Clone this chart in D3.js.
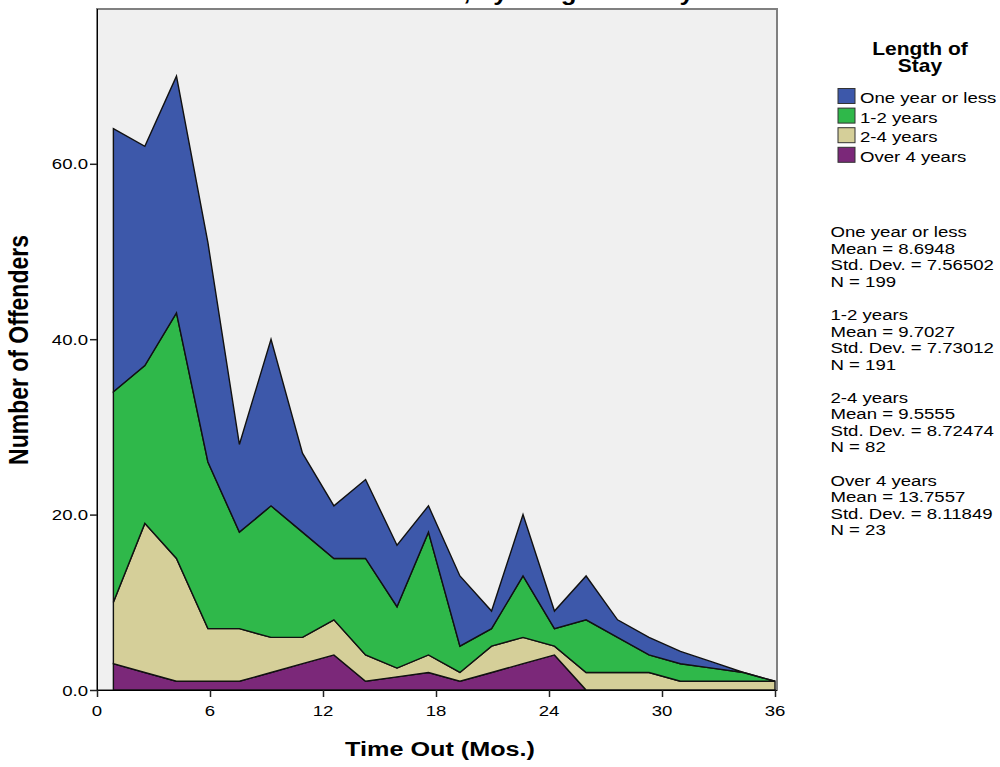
<!DOCTYPE html>
<html>
<head>
<meta charset="utf-8">
<script src="https://cdn.jsdelivr.net/npm/d3@7"></script>
<style>
  html, body { margin: 0; padding: 0; background: #ffffff; }
  svg { display: block; font-family: "Liberation Sans", Arial, sans-serif; }
</style>
</head>
<body>
<svg id="chart" width="1000" height="767"></svg>
<script>
// Months out (x positions of the frequency polygon vertices)
const monthsOut = [0.87, 2.54, 4.22, 5.89, 7.56, 9.24, 10.91, 12.58, 14.26, 15.93, 17.60,
                   19.27, 20.95, 22.62, 24.29, 25.97, 27.64, 29.31, 30.98, 32.66, 34.33, 36.00];

// Number of offenders per group (stacked bottom to top: over 4, 2-4, 1-2, one year or less)
const overFourYears = [3, 2, 1, 1, 1, 2, 3, 4, 1, 1.5, 2, 1, 2, 3, 4, 0, 0, 0, 0, 0, 0, 0];
const twoToFourYears = [7, 17, 14, 6, 6, 4, 3, 4, 3, 1, 2, 1, 3, 3, 1, 2, 2, 2, 1, 1, 1, 1];
const oneToTwoYears = [24, 18, 28, 19, 11, 15, 12, 7, 11, 7, 14, 3, 2, 7, 2, 6, 4, 2, 2, 1.5, 1, 0];
const oneYearOrLess = [30, 25, 27, 25, 10, 19, 9, 6, 9, 7, 3, 8, 2, 7, 2, 5, 2, 2, 1.4, 0.7, 0, 0];

const legendLabels = ["One year or less", "1-2 years", "2-4 years", "Over 4 years"];
const legendColors = ["#3d58aa", "#2fb84a", "#d5cf99", "#7b2879"];

const statMeans = ["8.6948", "9.7027", "9.5555", "13.7557"];
const statStdDevs = ["7.56502", "7.73012", "8.72474", "8.11849"];
const statCounts = ["199", "191", "82", "23"];

const xTickValues = [0, 6, 12, 18, 24, 30, 36];
const yTickValues = [0, 20, 40, 60];

// Text in this chart is drawn slightly wide
const STRETCH = 1.2;

const svg = d3.select("#chart");
const plot = { left: 97, right: 777, top: 9, bottom: 690 };

const x = d3.scaleLinear().domain([0, 36]).range([97, 775]);
const y = d3.scaleLinear().domain([0, 77.65]).range([plot.bottom, plot.top]);

function wideText(parent, px, py, str, opts = {}) {
  const g = parent.append("g")
    .attr("transform", `translate(${px},${py}) scale(${STRETCH},1)` + (opts.rotate ? ` rotate(${opts.rotate})` : ""));
  return g.append("text")
    .attr("x", 0).attr("y", 0)
    .attr("text-anchor", opts.anchor || "start")
    .attr("font-size", opts.size || 15.5)
    .attr("font-weight", opts.bold ? "bold" : "normal")
    .attr("fill", "#000")
    .text(str);
}

// Chart title (sits mostly above the visible area)
wideText(svg, 352, -0.5, "Time Out, by Length of Stay", { size: 21.5, bold: true });

// Plot background and frame
svg.append("rect")
  .attr("x", plot.left).attr("y", plot.top)
  .attr("width", plot.right - plot.left).attr("height", plot.bottom - plot.top)
  .attr("fill", "#f0f0f0")
  .attr("stroke", "#808080").attr("stroke-width", 2);

// Stacked areas
const rows = monthsOut.map((m, i) => ({
  m,
  over4: overFourYears[i],
  twoFour: twoToFourYears[i],
  oneTwo: oneToTwoYears[i],
  oneLess: oneYearOrLess[i]
}));
const keys = ["over4", "twoFour", "oneTwo", "oneLess"];
const keyColor = { over4: legendColors[3], twoFour: legendColors[2], oneTwo: legendColors[1], oneLess: legendColors[0] };
const stacked = d3.stack().keys(keys)(rows);

const area = d3.area()
  .x(d => x(d.data.m))
  .y0(d => y(d[0]))
  .y1(d => y(d[1]));

svg.append("g").selectAll("path")
  .data(stacked)
  .join("path")
  .attr("d", area)
  .attr("fill", d => keyColor[d.key])
  .attr("stroke", "#111")
  .attr("stroke-width", 1.4)
  .attr("stroke-linejoin", "miter");

// Axes
const xAxis = d3.axisBottom(x).tickValues(xTickValues).tickSize(7).tickFormat(d3.format("d"));
const gx = svg.append("g").attr("transform", `translate(0,${plot.bottom})`).call(xAxis);
gx.select(".domain").attr("stroke", "#000").attr("d", `M${plot.left},0.5H${plot.right}`);
gx.selectAll(".tick line").attr("stroke", "#222").attr("stroke-width", 1.5);
gx.selectAll(".tick text").remove();
xTickValues.forEach(v => wideText(gx, x(v), 26, String(v), { anchor: "middle", size: 15.5 }));

const yAxis = d3.axisLeft(y).tickValues(yTickValues).tickSize(7).tickFormat(d3.format(".1f"));
const gy = svg.append("g").attr("transform", `translate(${plot.left},0)`).call(yAxis);
gy.select(".domain").attr("stroke", "#000").attr("d", `M0.5,${plot.top}V${plot.bottom}`);
gy.selectAll(".tick line").attr("stroke", "#222").attr("stroke-width", 1.5);
gy.selectAll(".tick text").remove();
yTickValues.forEach(v => wideText(gy, -9, y(v) + 5.5, d3.format(".1f")(v), { anchor: "end", size: 15.5 }));

// Axis titles
wideText(svg, 440, 756, "Time Out (Mos.)", { anchor: "middle", size: 21, bold: true });
wideText(svg, 28, 350, "Number of Offenders", { anchor: "middle", size: 23, bold: true, rotate: -90 });

// Legend
const legend = svg.append("g");
wideText(legend, 920, 55, "Length of", { anchor: "middle", size: 17.5, bold: true });
wideText(legend, 920, 72, "Stay", { anchor: "middle", size: 17.5, bold: true });
legendLabels.forEach((label, i) => {
  const top = 88.5 + i * 19.6;
  legend.append("rect")
    .attr("x", 838).attr("y", top)
    .attr("width", 17).attr("height", 15)
    .attr("fill", legendColors[i])
    .attr("stroke", "#333").attr("stroke-width", 1);
  wideText(legend, 860, top + 14.5, label, { size: 15.5 });
});

// Group statistics
const statsBlock = svg.append("g");
legendLabels.forEach((label, i) => {
  const base = 237.3 + i * 82.75;
  const lines = [label, `Mean = ${statMeans[i]}`, `Std. Dev. = ${statStdDevs[i]}`, `N = ${statCounts[i]}`];
  lines.forEach((t, j) => wideText(statsBlock, 830.5, base + j * 16.55, t, { size: 15.5 }));
});
</script>
</body>
</html>
